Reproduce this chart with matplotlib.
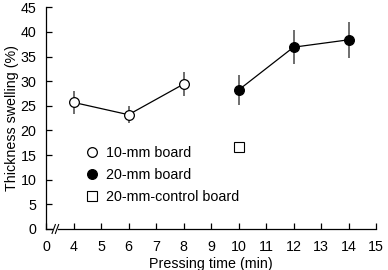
import matplotlib
matplotlib.use("Agg")
import matplotlib.pyplot as plt
from matplotlib.lines import Line2D

plt.rcParams['font.family'] = ['Liberation Sans', 'DejaVu Sans']

x10 = [4, 6, 8]
y10 = [25.7, 23.2, 29.4]
e10 = [2.4, 1.7, 2.4]

x20 = [10, 12, 14]
y20 = [28.2, 36.9, 38.4]
e20 = [3.1, 3.5, 3.6]

xc = [10]
yc = [16.7]
ec = [0.5]

xticks_pos = [3, 4, 5, 6, 7, 8, 9, 10, 11, 12, 13, 14, 15]
xtick_labels = ['0', '4', '5', '6', '7', '8', '9', '10', '11', '12', '13', '14', '15']
yticks = [0, 5, 10, 15, 20, 25, 30, 35, 40, 45]
labels = ['10-mm board', '20-mm board', '20-mm-control board']

fs = 10.3
fig = plt.figure(figsize=(3.88, 2.70), dpi=100)
ax = fig.add_axes([46/388, 1-229/270, 330/388, (229-7.3)/270])

ecol = '#555555'
ax.errorbar(x10, y10, yerr=e10, fmt='-o', color='black', ecolor=ecol, elinewidth=1.2,
            mfc='white', mec='black', ms=7, lw=0.9, mew=0.9, capsize=0, zorder=3)
ax.errorbar(x20, y20, yerr=e20, fmt='-o', color='black', ecolor=ecol, elinewidth=1.2,
            mfc='black', mec='black', ms=7, lw=0.9, mew=0.9, capsize=0, zorder=3)
ax.errorbar(xc, yc, yerr=ec, fmt='s', color='black', ecolor=ecol, elinewidth=1.0,
            mfc='white', mec='black', ms=6.5, mew=0.8, capsize=0, zorder=3)

ax.set_xlim(3, 15)
ax.set_ylim(0, 45)
ax.set_xticks(xticks_pos)
ax.set_xticklabels(xtick_labels)
ax.set_yticks(yticks)
ax.spines['top'].set_visible(False)
ax.spines['right'].set_visible(False)
ax.tick_params(direction='in', length=4, width=0.9, labelsize=fs)
ax.tick_params(axis='x', pad=8)
ax.tick_params(axis='y', pad=7)
for s in ['left', 'bottom']:
    ax.spines[s].set_linewidth(0.9)
ax.set_xlabel('Pressing time (min)', fontsize=fs, labelpad=2)
ax.set_ylabel('Thickness swelling (%)', fontsize=fs, labelpad=1)

# axis break marks
for dx in [3.28, 3.40]:
    ax.plot([dx - 0.06, dx + 0.06], [-0.9, 0.9], color='black', lw=0.8, clip_on=False, zorder=5)
ax.plot([3.30, 3.38], [0, 0], color='white', lw=2, clip_on=False, zorder=4)

handles = [
    Line2D([], [], ls='none', marker='o', mfc='white', mec='black', ms=7, mew=0.9),
    Line2D([], [], ls='none', marker='o', mfc='black', mec='black', ms=7, mew=0.9),
    Line2D([], [], ls='none', marker='s', mfc='white', mec='black', ms=6.5, mew=0.8),
]
leg = ax.legend(handles, labels, loc='upper left', bbox_to_anchor=(0.105, 0.40), frameon=False,
                fontsize=fs, handlelength=0.8, handletextpad=0.6, labelspacing=0.55, borderaxespad=0)
fig.savefig('out.png', dpi=100)
